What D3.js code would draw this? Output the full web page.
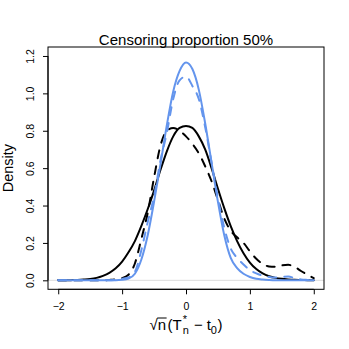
<!DOCTYPE html>
<html>
<head>
<meta charset="utf-8">
<script src="https://cdn.jsdelivr.net/npm/d3@7"></script>
<style>
  html, body { margin: 0; padding: 0; background: #fff; }
  svg { display: block; font-family: "Liberation Sans", Arial, Helvetica, sans-serif; }
</style>
</head>
<body>
<svg id="chart" width="349" height="349"></svg>
<script>
// ---- data ----
const titleText = "Censoring proportion 50%";
const yLabelText = "Density";
const xGrid = [-2.0,-1.9,-1.8,-1.7,-1.6,-1.5,-1.4,-1.3,-1.2,-1.1,-1.0,-0.9,-0.8,-0.7,-0.6,-0.5,-0.4,-0.3,-0.2,-0.1,
               0.0,0.1,0.2,0.3,0.4,0.5,0.6,0.7,0.8,0.9,1.0,1.1,1.2,1.3,1.4,1.5,1.6,1.7,1.8,1.9,2.0];
const blackSolid = [0,0.0003,0.001,0.002,0.004,0.007,0.013,0.024,0.040,0.064,0.10,0.15,0.21,0.29,0.38,0.48,0.59,0.69,0.77,0.815,
                    0.826,0.815,0.77,0.70,0.60,0.49,0.385,0.29,0.21,0.145,0.095,0.06,0.037,0.022,0.013,0.008,0.005,0.003,0.002,0.001,0];
const blackDashed = [0,0,0,0,0,0,0,0,0.002,0.005,0.012,0.03,0.09,0.22,0.36,0.55,0.72,0.80,0.815,0.80,
                     0.77,0.73,0.68,0.61,0.53,0.43,0.33,0.265,0.23,0.20,0.155,0.115,0.088,0.074,0.072,0.08,0.083,0.072,0.05,0.03,0.012];
const blueSolid = [0,0,0,0,0,0,0,0,0.001,0.001,0.003,0.01,0.035,0.11,0.24,0.42,0.62,0.83,1.01,1.12,
                   1.165,1.13,1.02,0.84,0.63,0.42,0.24,0.12,0.065,0.035,0.018,0.008,0.004,0.002,0.001,0.001,0,0,0,0,0];
const blueDashed = [0,0,0,0,0,0,0,0,0,0.003,0.008,0.015,0.045,0.16,0.31,0.45,0.64,0.79,0.97,1.07,
                    1.09,1.04,0.97,0.82,0.63,0.44,0.28,0.17,0.12,0.085,0.055,0.037,0.025,0.018,0.015,0.018,0.02,0.012,0.005,0.002,0];
const xTicks = [-2,-1,0,1,2];
const xTickLabels = ["\u22122","\u22121","0","1","2"];
const yTicks = [0,0.2,0.4,0.6,0.8,1.0,1.2];
const yTickLabels = ["0.0","0.2","0.4","0.6","0.8","1.0","1.2"];
const xLim = [-2,2];
const yLim = [0,1.2];

// ---- layout ----
const box = {left: 48, right: 324, top: 47, bottom: 289.3};
const ext = (l) => { const d = (l[1]-l[0])*0.04; return [l[0]-d, l[1]+d]; };
const x = d3.scaleLinear().domain(ext(xLim)).range([box.left, box.right]);
const y = d3.scaleLinear().domain(ext(yLim)).range([box.bottom, box.top]);

const svg = d3.select("#chart");
const blue = "#6495ED";

// baseline
svg.append("line")
  .attr("x1", x(ext(xLim)[0])).attr("x2", x(ext(xLim)[1]))
  .attr("y1", y(0)).attr("y2", y(0))
  .attr("stroke", "#dcdcdc").attr("stroke-width", 1);

const line = (vals) => d3.line()
  .x((d, i) => x(xGrid[i]))
  .y(d => y(d))
  .curve(d3.curveMonotoneX)(vals);

const series = [
  {v: blackSolid, c: "#000", dash: null},
  {v: blackDashed, c: "#000", dash: "8,8"},
  {v: blueSolid, c: blue, dash: null},
  {v: blueDashed, c: blue, dash: "8,8"}
];
series.forEach(s => {
  svg.append("path")
    .attr("d", line(s.v))
    .attr("fill", "none")
    .attr("stroke", s.c)
    .attr("stroke-width", 2)
    .attr("stroke-linecap", "round")
    .attr("stroke-linejoin", "round")
    .attr("stroke-dasharray", s.dash);
});

// box
svg.append("rect")
  .attr("x", box.left).attr("y", box.top)
  .attr("width", box.right - box.left).attr("height", box.bottom - box.top)
  .attr("fill", "none").attr("stroke", "#000").attr("stroke-width", 1);

// x axis
const xAxis = d3.axisBottom(x).tickValues(xTicks).tickSize(5)
  .tickFormat((d, i) => xTickLabels[i]);
const gx = svg.append("g").attr("transform", `translate(0,${box.bottom})`).call(xAxis);
gx.select(".domain").attr("d", `M${x(xTicks[0])},0H${x(xTicks[xTicks.length-1])}`).attr("stroke", "#000");
gx.selectAll(".tick line").attr("stroke", "#000");
gx.selectAll(".tick text").attr("font-size", 10.5).attr("fill", "#000")
  .attr("font-family", "Liberation Sans, Arial, sans-serif").attr("dy", "0.71em").attr("y", 13.5);

// y axis
const yAxis = d3.axisLeft(y).tickValues(yTicks).tickSize(5)
  .tickFormat((d, i) => yTickLabels[i]);
const gy = svg.append("g").attr("transform", `translate(${box.left},0)`).call(yAxis);
gy.select(".domain").attr("d", `M0,${y(yTicks[0])}V${y(yTicks[yTicks.length-1])}`).attr("stroke", "#000");
gy.selectAll(".tick line").attr("stroke", "#000");
gy.selectAll(".tick text")
  .attr("font-size", 10.5).attr("fill", "#000")
  .attr("font-family", "Liberation Sans, Arial, sans-serif")
  .attr("x", null).attr("dy", null)
  .attr("text-anchor", "middle")
  .attr("transform", "translate(-18,0) rotate(-90)")
  .attr("y", 0).attr("dy", "0.35em");

// title
svg.append("text")
  .attr("x", (box.left + box.right)/2).attr("y", 44.5)
  .attr("text-anchor", "middle").attr("font-size", 15).attr("fill", "#000")
  .text(titleText);

// y label
svg.append("text")
  .attr("transform", `translate(13,${(box.top+box.bottom)/2}) rotate(-90)`)
  .attr("text-anchor", "middle").attr("font-size", 14.5).attr("fill", "#000")
  .text(yLabelText);

// x label: sqrt(n)(T[n]^"*" - t[0])
const gl = svg.append("g");
const fs = 15, small = 11;
let cx = 0;
const base = 330;
function piece(str, size, dy) {
  const t = gl.append("text").attr("x", cx).attr("y", base + (dy||0))
    .attr("font-size", size).attr("fill", "#000").text(str);
  const w = t.node().getComputedTextLength();
  cx += w;
  return {t, w};
}
piece("\u221A", fs, 0);
const nStart = cx;
piece("n", fs, 0);
gl.append("line").attr("x1", nStart - 0.5).attr("x2", cx + 0.5)
  .attr("y1", base - 12).attr("y2", base - 12).attr("stroke", "#000").attr("stroke-width", 1);
cx += 1.5;
piece("(", fs, 0);
piece("T", fs, 0);
cx += 1;
const scX = cx;
piece("*", small, -7);
const supEnd = cx;
cx = scX;
piece("n", small, 4);
cx = Math.max(cx, supEnd) + 5;
piece("\u2212", fs, 0);
cx += 4;
piece("t", fs, 0);
piece("0", small, 4);
cx += 0.5;
piece(")", fs, 0);
const totalW = cx;
gl.attr("transform", `translate(${(box.left+box.right)/2 - totalW/2},0)`);
</script>
</body>
</html>
